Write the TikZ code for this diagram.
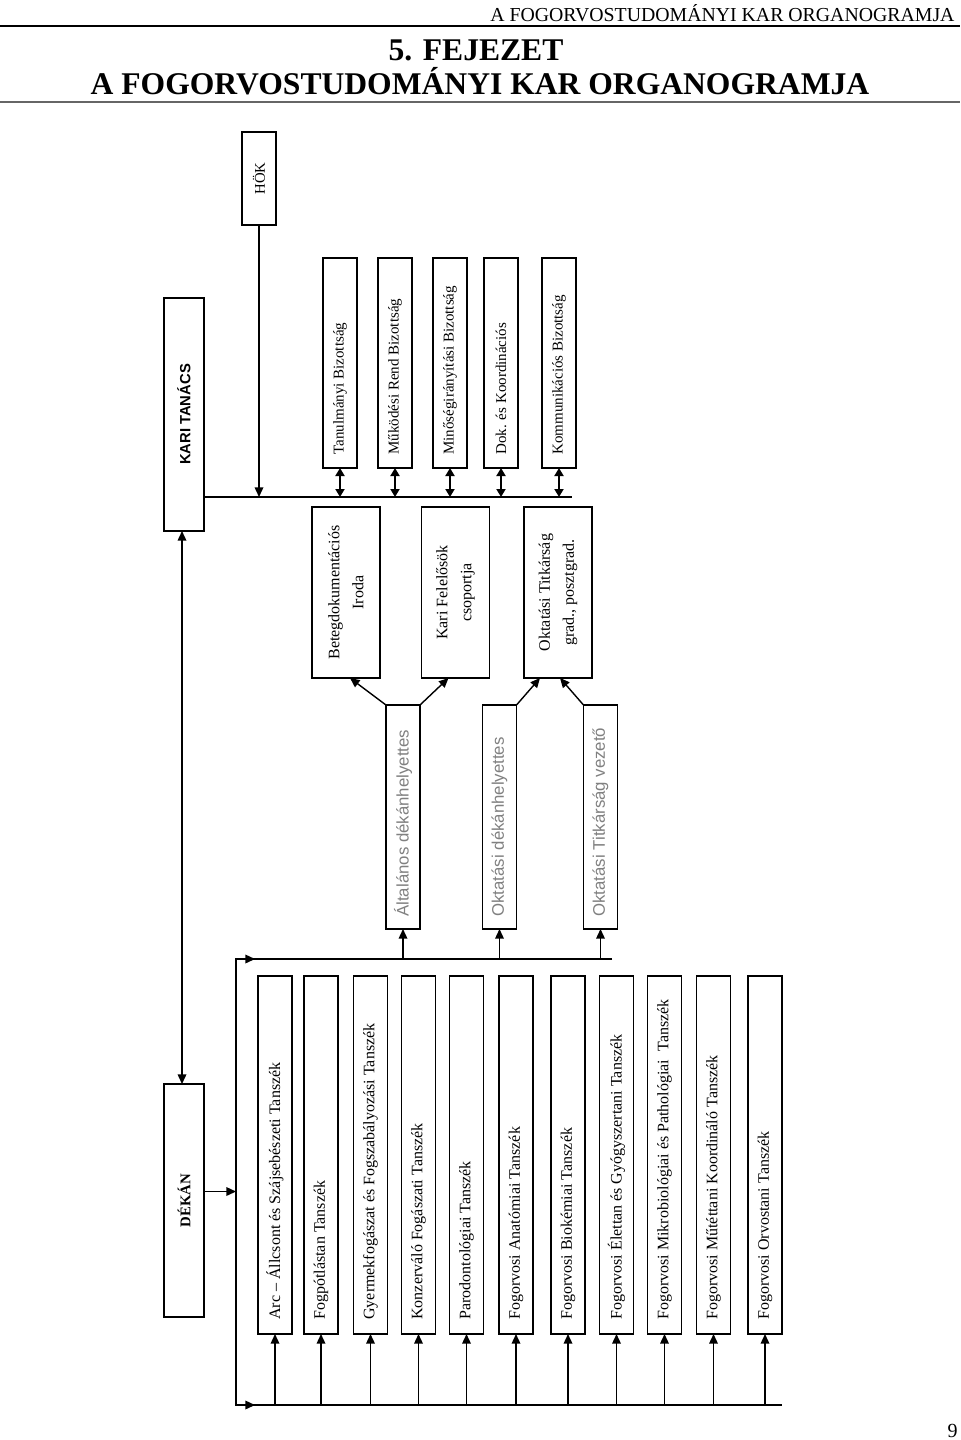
\documentclass[tikz,border=0pt]{standalone}
\usepackage{fontspec}
\setmainfont{Liberation Serif}
\newfontfamily\arialf{Liberation Sans}
\usetikzlibrary{arrows.meta,calc}
\begin{document}
\begin{tikzpicture}[x=0.5pt,y=-0.5pt,
  box/.style={draw, line width=0.7pt, inner sep=0pt, outer sep=0pt},
  vbox/.style={box, minimum width=17pt},
  ln/.style={line width=0.7pt},
  arr/.style={ln, -{Triangle[length=4.8pt,width=4.3pt]}},
  darr/.style={line width=0.9pt, {Triangle[length=4pt,width=4.5pt]}-{Triangle[length=4pt,width=4.5pt]}},
  barr/.style={ln, {Triangle[length=4.8pt,width=4.3pt]}-{Triangle[length=4.8pt,width=4.3pt]}},
  ctext/.style={rotate=90, inner sep=0pt, font=\fontsize{7.5}{9}\selectfont},
  dtext/.style={rotate=90, inner sep=0pt, font=\fontsize{8}{9.6}\selectfont},
  gtext/.style={rotate=90, inner sep=0pt, text=black!50, font=\arialf\fontsize{8.4}{10}\selectfont},
  mtext/.style={rotate=90, inner sep=0pt, align=center, font=\fontsize{8}{12}\selectfont},
]
\useasboundingbox (0,0) rectangle (960,1440);

% header
\node[anchor=base east, inner sep=0pt, font=\fontsize{9.9}{12}\selectfont] (hdr) at (955,21) {A FOGORVOSTUDOMÁNYI KAR ORGANOGRAMJA};
\draw[line width=1.1pt] (0,26) -- (960,26);
\node[anchor=base, inner sep=0pt, font=\fontsize{15.8}{19}\selectfont\bfseries] (t1) at (476,60) {5. FEJEZET};
\node[anchor=base, inner sep=0pt, font=\fontsize{15.8}{19}\selectfont\bfseries] (t2) at (480,94) {A FOGORVOSTUDOMÁNYI KAR ORGANOGRAMJA};
\draw[line width=0.6pt, black!60] (0,102) -- (960,102);

% HÖK, Kari Tanács, Dékán
\node[box, minimum width=17pt, minimum height=46.5pt] (hok) at (259,178.5) {};
\node[rotate=90, inner sep=0pt, font=\fontsize{7.4}{8}\selectfont] (hok-t) at (hok) {HÖK};
\node[box, minimum width=20pt, minimum height=116.5pt] (kari) at (184,414.5) {};
\node[rotate=90, inner sep=0pt, font=\arialf\bfseries\fontsize{7.4}{9}\selectfont] (kari-t) at (kari) {KARI TANÁCS};
\node[box, minimum width=20pt, minimum height=116.5pt] (dekan) at (184,1200.5) {};
\node[rotate=90, inner sep=0pt, font=\bfseries\fontsize{7.4}{9}\selectfont] (dekan-t) at (dekan) {DÉKÁN};

\coordinate (kline) at (204,497);
\coordinate (kend) at (572,497);
\draw[ln] (kari.east |- kline) -- (kend);
\draw[arr] (hok.south) -- (hok.south |- kline);
\draw[barr] ($(kari.south)+(-2,0)$) -- ($(dekan.north)+(-2,0)$);

% committees
\foreach \n/\x/\txt in {tan/340/{Tanulmányi Bizottság}, mukod/395/{Működési Rend Bizottság}, minos/450/{Minőségirányítási Bizottság}, dok/501/{Dok. és Koordinációs}, komm/559/{Kommunikációs Bizottság}} {
  \node[vbox, minimum height=105pt] (\n) at (\x,363) {};
  \node[ctext, anchor=west] (\n-t) at ($(\n.south)+(0,-13)$) {\txt};
  \draw[darr] (\n.south) -- (\n.south |- kline);
}

% middle boxes
\node[box, minimum width=34pt, minimum height=85.5pt] (beteg) at (346,592.5) {};
\node[mtext] (beteg-t) at (beteg) {Betegdokumentációs\\Iroda};
\node[box, minimum width=34pt, minimum height=85.5pt] (karif) at (455.5,592.5) {};
\node[mtext] (karif-t) at (karif) {Kari Felelősök\\csoportja};
\node[box, minimum width=34pt, minimum height=85.5pt] (oktt) at (558,592.5) {};
\node[mtext] (oktt-t) at (oktt) {Oktatási Titkárság\\grad., posztgrad.};

% buses
\coordinate (dbus) at (236,959);
\coordinate (dbusR) at (612,959);
\coordinate (bbus) at (236,1405);
\coordinate (bbusR) at (782,1405);
\draw[ln] (dbusR) -- (dbus) -- (bbus) -- (bbusR);
\draw[arr] (dbus) -- ++(19,0);
\draw[arr] (bbus) -- ++(19,0);
\draw[arr] ($(dekan.east)+(0,-9)$) -- ($(dekan.east -| dbus)+(0,-9)$);

% deputies
\foreach \n/\x/\txt in {alt/403/{Általános dékánhelyettes}, oktdh/499.5/{Oktatási dékánhelyettes}, titkv/600.5/{Oktatási Titkárság vezető}} {
  \node[vbox, minimum height=112pt] (\n) at (\x,817) {};
  \node[gtext, anchor=west] (\n-t) at ($(\n.south)+(0,-12)$) {\txt};
  \draw[arr] (\n.south |- dbus) -- (\n.south);
}
\draw[arr] (alt.north west) -- ($(beteg.south)+(4,0)$);
\draw[arr] (alt.north east) -- ($(karif.south)+(-7,0)$);
\draw[arr] (oktdh.north east) -- ($(oktt.south)+(-18,0)$);
\draw[arr] (titkv.north west) -- ($(oktt.south)+(2,0)$);

% departments
\foreach \n/\x/\txt in {d1/275/{Arc – Állcsont és Szájsebészeti Tanszék}, d2/321/{Fogpótlástan Tanszék}, d3/370.5/{Gyermekfogászat és Fogszabályozási Tanszék}, d4/418.5/{Konzerváló Fogászati Tanszék}, d5/466.5/{Parodontológiai Tanszék}, d6/516/{Fogorvosi Anatómiai Tanszék}, d7/568/{Fogorvosi Biokémiai Tanszék}, d8/616.5/{Fogorvosi Élettan és Gyógyszertani Tanszék}, d9/664.5/{Fogorvosi Mikrobiológiai és Pathológiai \ Tanszék}, d10/713.5/{Fogorvosi Műtéttani Koordináló Tanszék}, d11/765/{Fogorvosi Orvostani Tanszék}} {
  \node[vbox, minimum height=179pt] (\n) at (\x,1155) {};
  \node[dtext, anchor=west] (\n-t) at ($(\n.south)+(0,-14)$) {\txt};
  \draw[arr] (\n.south |- bbus) -- (\n.south);
}

\node[anchor=base east, inner sep=0pt, font=\fontsize{10}{12}\selectfont] (pnum) at (958,1437) {9};
\end{tikzpicture}
\end{document}
